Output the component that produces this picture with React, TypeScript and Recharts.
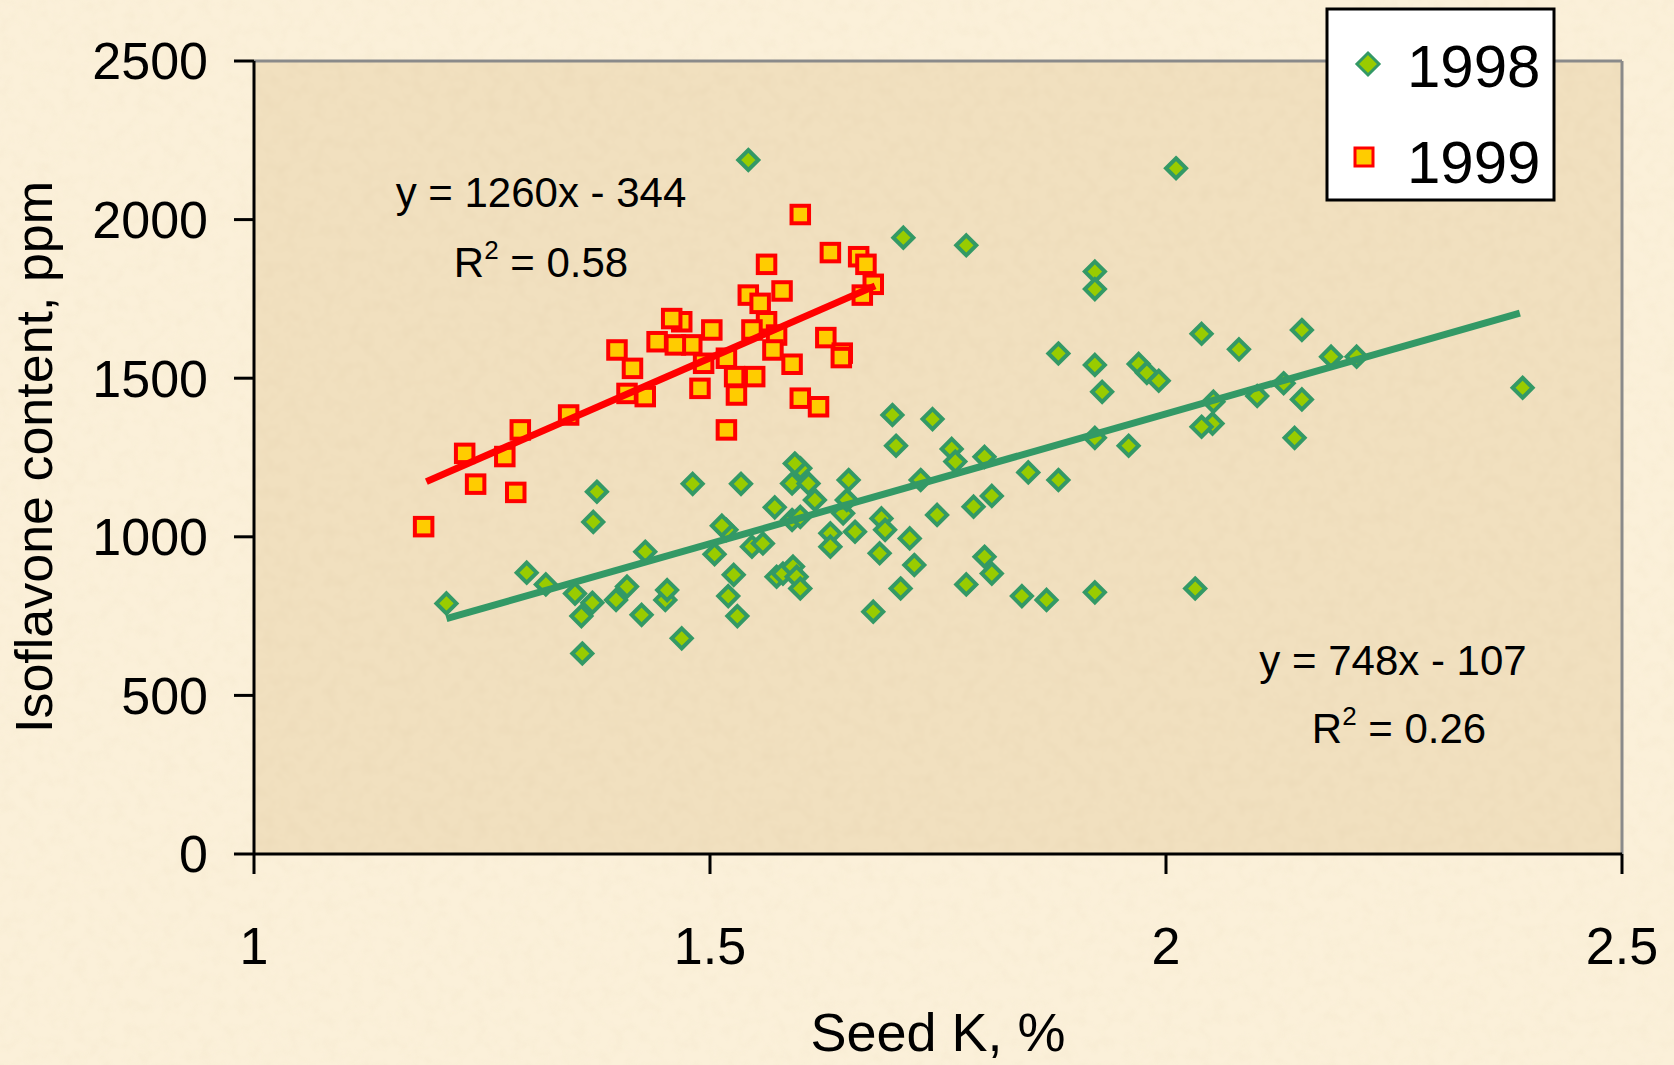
import React from 'react';
import {
  ScatterChart, Scatter, XAxis, YAxis, CartesianGrid, ReferenceLine,
} from 'recharts';

// 1998 season: seed K (%) and isoflavone (ppm)
const seedK1998 = [
  1.211, 1.299, 1.320, 1.352, 1.376, 1.372, 1.371, 1.359, 1.360, 1.425,
  1.429, 1.409, 1.397, 1.451, 1.453, 1.469, 1.481, 1.534, 1.505, 1.518,
  1.513, 1.526, 1.520, 1.530, 1.546, 1.558, 1.571, 1.573, 1.580, 1.590,
  1.599, 1.593, 1.608, 1.615, 1.590, 1.599, 1.591, 1.595, 1.599, 1.632,
  1.632, 1.646, 1.652, 1.650, 1.659, 1.688, 1.692, 1.686, 1.679, 1.704,
  1.700, 1.709, 2.011, 1.712, 1.781, 1.922, 1.922, 2.039, 2.080, 1.882,
  1.922, 1.970, 1.979, 1.992, 1.930, 1.744, 1.765, 1.769, 1.801, 1.731,
  1.849, 1.882, 1.922, 1.959, 2.052, 2.051, 2.039, 2.100, 1.719, 1.724,
  1.749, 1.789, 1.809, 1.801, 1.809, 1.781, 1.842, 1.869, 1.922, 2.032,
  2.149, 2.181, 2.209, 2.129, 2.149, 2.141, 2.391, 1.542,
];
const iso1998 = [
  790, 887, 850, 821, 1142, 1047, 792, 750, 632, 754,
  953, 843, 801, 801, 832, 680, 1167, 1167, 945, 1022,
  1035, 880, 813, 750, 969, 979, 1093, 874, 884, 1168,
  1216, 1231, 1168, 1116, 1053, 1063, 906, 874, 837, 1011,
  969, 1074, 1179, 1116, 1016, 1058, 1022, 948, 764, 1287,
  1384, 837, 2162, 1943, 1919, 1836, 1781, 1640, 1591, 1578,
  1542, 1545, 1517, 1492, 1457, 1371, 1277, 1237, 1252, 1179,
  1203, 1179, 1312, 1287, 1426, 1357, 1347, 1444, 995, 911,
  1069, 1095, 1129, 937, 884, 850, 813, 801, 825, 837,
  1652, 1568, 1568, 1484, 1433, 1312, 1470, 2188,
];

// 1999 season
const seedK1999 = [
  1.599, 1.632, 1.663, 1.671, 1.679, 1.667, 1.562, 1.542, 1.579, 1.555,
  1.562, 1.546, 1.573, 1.569, 1.590, 1.627, 1.645, 1.644, 1.599, 1.619,
  1.518, 1.529, 1.527, 1.549, 1.518, 1.502, 1.489, 1.493, 1.480, 1.462,
  1.469, 1.458, 1.442, 1.398, 1.415, 1.409, 1.429, 1.345, 1.292, 1.275,
  1.231, 1.243, 1.287, 1.186,
];
const iso1999 = [
  2016, 1896, 1883, 1859, 1796, 1762, 1859, 1762, 1775, 1736,
  1678, 1652, 1636, 1589, 1544, 1628, 1579, 1565, 1437, 1410,
  1337, 1447, 1505, 1505, 1563, 1652, 1468, 1547, 1605, 1605,
  1678, 1688, 1615, 1589, 1531, 1452, 1442, 1384, 1337, 1253,
  1263, 1166, 1140, 1032,
];

// linear trend line end points as drawn
const trend1998 = [{ x: 1.211, y: 742 }, { x: 2.388, y: 1705 }];
const trend1999 = [{ x: 1.189, y: 1174 }, { x: 1.681, y: 1791 }];

const xTicks = [1, 1.5, 2, 2.5];
const yTicks = [0, 500, 1000, 1500, 2000, 2500];

const data1998 = seedK1998.map((x, i) => ({ x, y: iso1998[i] }));
const data1999 = seedK1999.map((x, i) => ({ x, y: iso1999[i] }));

const FONT = '"Liberation Sans", Arial, sans-serif';
const W = 1674;
const H = 1065;

const Diamond = (p: { cx?: number; cy?: number }) => {
  const { cx = 0, cy = 0 } = p;
  const r = 10;
  return (
    <polygon
      points={`${cx},${cy - r} ${cx + r},${cy} ${cx},${cy + r} ${cx - r},${cy}`}
      fill="#99cc00" stroke="#339966" strokeWidth={4}
    />
  );
};

const Square = (p: { cx?: number; cy?: number }) => {
  const { cx = 0, cy = 0 } = p;
  const s = 17.5;
  return (
    <rect x={cx - s / 2} y={cy - s / 2} width={s} height={s}
      fill="#ffcc00" stroke="#ff0000" strokeWidth={4} />
  );
};

const NoDot = () => <g />;

// paper-like mottled textures used as fills
function Textures() {
  return (
    <svg width={0} height={0} style={{ position: 'absolute' }}>
      <defs>
        <filter id="mottle" x="0" y="0" width="100%" height="100%">
          <feTurbulence type="fractalNoise" baseFrequency="0.08" numOctaves={2} seed={7} />
          <feColorMatrix type="matrix"
            values="0 0 0 0 0.82  0 0 0 0 0.68  0 0 0 0 0.46  0.9 0 0 0 -0.36" />
        </filter>
        <pattern id="plotPaper" patternUnits="userSpaceOnUse" width={W} height={H}>
          <rect width={W} height={H} fill="#f1e0bf" />
          <rect width={W} height={H} filter="url(#mottle)" />
        </pattern>
        <pattern id="pagePaper" patternUnits="userSpaceOnUse" width={W} height={H}>
          <rect width={W} height={H} fill="#fbf0d9" />
          <rect width={W} height={H} filter="url(#mottle)" opacity={0.3} />
        </pattern>
      </defs>
    </svg>
  );
}

function Overlay() {
  return (
    <svg width={W} height={H} style={{ position: 'absolute', left: 0, top: 0, pointerEvents: 'none' }}
      fontFamily={FONT}>
      {/* axis titles */}
      <text x={52} y={457} transform="rotate(-90 52 457)" textAnchor="middle" fontSize={52}>
        Isoflavone content, ppm
      </text>
      <text x={938} y={1051} textAnchor="middle" fontSize={54}>Seed K, %</text>

      {/* trend equations */}
      <text x={541} y={207} textAnchor="middle" fontSize={42}>y = 1260x - 344</text>
      <text x={541} y={277} textAnchor="middle" fontSize={42}>
        R<tspan fontSize={26} dy={-18}>2</tspan><tspan dy={18}> = 0.58</tspan>
      </text>
      <text x={1393} y={675} textAnchor="middle" fontSize={42}>y = 748x - 107</text>
      <text x={1399} y={743} textAnchor="middle" fontSize={42}>
        R<tspan fontSize={26} dy={-18}>2</tspan><tspan dy={18}> = 0.26</tspan>
      </text>

      {/* legend */}
      <rect x={1327} y={9} width={227} height={191} fill="#ffffff" stroke="#000000" strokeWidth={3} />
      <polygon points="1368,53 1379,64 1368,75 1357,64" fill="#99cc00" stroke="#339966" strokeWidth={3} />
      <text x={1407} y={87} fontSize={60}>1998</text>
      <rect x={1355} y={148} width={18} height={18} fill="#ffcc00" stroke="#ff0000" strokeWidth={3} />
      <text x={1407} y={183} fontSize={60}>1999</text>
    </svg>
  );
}

export default function App() {
  return (
    <div style={{ position: 'absolute', left: 0, top: 0, width: W, height: H, background: '#faeed5', overflow: 'hidden' }}>
      <Textures />
      <svg width={W} height={H} style={{ position: 'absolute', left: 0, top: 0 }}>
        <rect width={W} height={H} fill="url(#pagePaper)" />
      </svg>
      <div style={{ position: 'absolute', left: 0, top: 0 }}>
        <ScatterChart width={W} height={H} margin={{ top: 61, right: 52, bottom: 91, left: 0 }}>
          <CartesianGrid horizontal={false} vertical={false} fill="url(#plotPaper)" stroke="none" />
          <XAxis
            type="number" dataKey="x" domain={[1, 2.5]} ticks={xTicks}
            height={120} tickSize={20} tickMargin={53}
            axisLine={{ stroke: '#000', strokeWidth: 3 }}
            tickLine={{ stroke: '#000', strokeWidth: 3 }}
            tick={{ fontSize: 52, fill: '#000', fontFamily: FONT }}
            allowDataOverflow
          />
          <YAxis
            type="number" dataKey="y" domain={[0, 2500]} ticks={yTicks}
            width={254} tickSize={20} tickMargin={26}
            axisLine={{ stroke: '#000', strokeWidth: 3 }}
            tickLine={{ stroke: '#000', strokeWidth: 3 }}
            tick={{ fontSize: 52, fill: '#000', fontFamily: FONT }}
            allowDataOverflow
          />
          <ReferenceLine y={2500} stroke="#8a8a8a" strokeWidth={3} />
          <ReferenceLine x={2.5} stroke="#8a8a8a" strokeWidth={3} />
          <Scatter name="1998" data={data1998} shape={Diamond} isAnimationActive={false} />
          <Scatter name="1999" data={data1999} shape={Square} isAnimationActive={false} />
          <Scatter data={trend1998} shape={NoDot} line={{ stroke: '#339966', strokeWidth: 7 }} isAnimationActive={false} />
          <Scatter data={trend1999} shape={NoDot} line={{ stroke: '#ff0000', strokeWidth: 7 }} isAnimationActive={false} />
        </ScatterChart>
      </div>
      <Overlay />
    </div>
  );
}
